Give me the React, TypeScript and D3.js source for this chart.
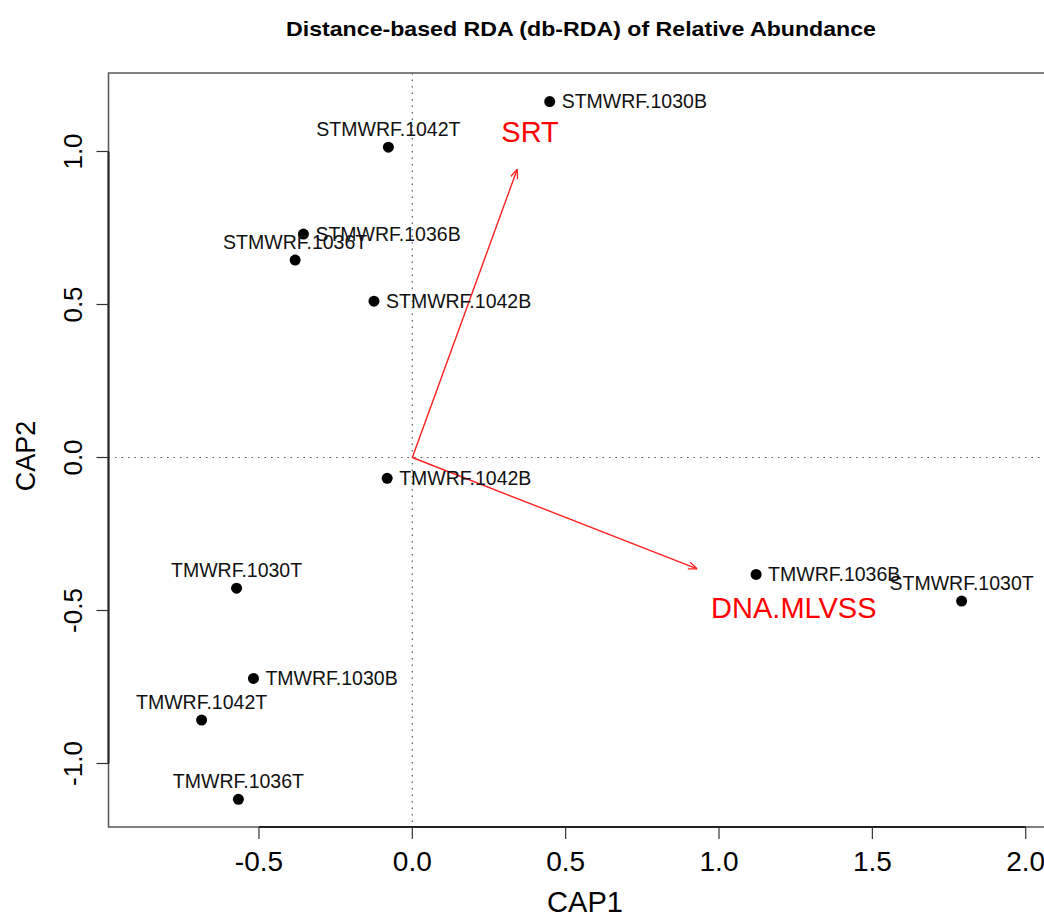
import React, { useEffect, useRef } from 'react';
import * as d3 from 'd3';

const WIDTH = 1044;
const HEIGHT = 919;

// site scores (CAP1, CAP2)
const sampleNames = [
  'STMWRF.1030B', 'STMWRF.1042T', 'STMWRF.1036B', 'STMWRF.1036T',
  'STMWRF.1042B', 'TMWRF.1042B', 'TMWRF.1030T', 'TMWRF.1030B',
  'TMWRF.1042T', 'TMWRF.1036T', 'TMWRF.1036B', 'STMWRF.1030T',
];
const cap1 = [0.448, -0.078, -0.355, -0.382, -0.125, -0.082, -0.573, -0.518, -0.687, -0.567, 1.121, 1.791];
const cap2 = [1.163, 1.014, 0.730, 0.645, 0.511, -0.068, -0.427, -0.722, -0.858, -1.117, -0.382, -0.469];
// R text() pos: 3 = above, 4 = right
const labelPos = [4, 3, 4, 3, 4, 4, 3, 4, 3, 3, 4, 3];

// environmental vectors
const envNames = ['SRT', 'DNA.MLVSS'];
const envCap1 = [0.342, 0.929];
const envCap2 = [0.942, -0.364];
const envLabelCap1 = [0.384, 1.244];
const envLabelCap2 = [1.065, -0.491];

const xTicks = [-0.5, 0.0, 0.5, 1.0, 1.5, 2.0];
const yTicks = [-1.0, -0.5, 0.0, 0.5, 1.0];

const App = () => {
  const svgRef = useRef(null);

  useEffect(() => {
    const svg = d3.select(svgRef.current);
    svg.selectAll('*').remove();

    const left = 108.5, right = 1053.5, top = 73, bottom = 827;
    const font = '"Liberation Sans", Arial, Helvetica, sans-serif';

    const x = d3.scaleLinear().domain([-0.9906, 2.0906]).range([left, right]);
    const y = d3.scaleLinear().domain([-1.2075, 1.2565]).range([bottom, top]);

    // title
    svg.append('text')
      .attr('x', 581)
      .attr('y', 36)
      .attr('text-anchor', 'middle')
      .attr('font-family', font)
      .attr('font-weight', 'bold')
      .attr('font-size', 21)
      .attr('textLength', 590)
      .attr('lengthAdjust', 'spacingAndGlyphs')
      .text('Distance-based RDA (db-RDA) of Relative Abundance');

    // dotted zero lines
    svg.append('line')
      .attr('x1', x(0)).attr('x2', x(0))
      .attr('y1', top).attr('y2', bottom)
      .attr('stroke', '#555')
      .attr('stroke-width', 1.2)
      .attr('stroke-dasharray', '1.5,5');
    svg.append('line')
      .attr('x1', left).attr('x2', right)
      .attr('y1', y(0)).attr('y2', y(0))
      .attr('stroke', '#555')
      .attr('stroke-width', 1.2)
      .attr('stroke-dasharray', '1.5,5');

    // box
    svg.append('rect')
      .attr('x', left).attr('y', top)
      .attr('width', right - left).attr('height', bottom - top)
      .attr('fill', 'none')
      .attr('stroke', '#555')
      .attr('stroke-width', 1.5);

    // x axis
    svg.append('line')
      .attr('x1', x(xTicks[0])).attr('x2', x(xTicks[xTicks.length - 1]))
      .attr('y1', bottom).attr('y2', bottom)
      .attr('stroke', '#222').attr('stroke-width', 2);
    const xg = svg.selectAll('.xtick').data(xTicks).enter().append('g')
      .attr('class', 'xtick')
      .attr('transform', d => `translate(${x(d)},${bottom})`);
    xg.append('line').attr('y1', 0).attr('y2', 12).attr('stroke', '#333').attr('stroke-width', 1.2);
    xg.append('text')
      .attr('y', 44)
      .attr('text-anchor', 'middle')
      .attr('font-family', font)
      .attr('font-size', 28)
      .text(d => d3.format('.1f')(d).replace('\u2212', '-'));

    // y axis
    svg.append('line')
      .attr('x1', left).attr('x2', left)
      .attr('y1', y(yTicks[0])).attr('y2', y(yTicks[yTicks.length - 1]))
      .attr('stroke', '#222').attr('stroke-width', 2);
    const yg = svg.selectAll('.ytick').data(yTicks).enter().append('g')
      .attr('class', 'ytick')
      .attr('transform', d => `translate(${left},${y(d)})`);
    yg.append('line').attr('x1', 0).attr('x2', -12).attr('stroke', '#333').attr('stroke-width', 1.2);
    yg.append('text')
      .attr('transform', 'translate(-27,0) rotate(-90)')
      .attr('text-anchor', 'middle')
      .attr('font-family', font)
      .attr('font-size', 26)
      .text(d => d3.format('.1f')(d).replace('\u2212', '-'));

    // axis titles
    svg.append('text')
      .attr('x', 585).attr('y', 912)
      .attr('text-anchor', 'middle')
      .attr('font-family', font)
      .attr('font-size', 29)
      .text('CAP1');
    svg.append('text')
      .attr('transform', 'translate(35,456) rotate(-90)')
      .attr('text-anchor', 'middle')
      .attr('font-family', font)
      .attr('font-size', 27)
      .text('CAP2');

    // arrows
    svg.append('defs').append('marker')
      .attr('id', 'head')
      .attr('viewBox', '0 0 10 10')
      .attr('refX', 10).attr('refY', 5)
      .attr('markerWidth', 9).attr('markerHeight', 9)
      .attr('markerUnits', 'userSpaceOnUse')
      .attr('orient', 'auto')
      .append('path')
      .attr('d', 'M0,1 L10,5 L0,9')
      .attr('fill', 'none')
      .attr('stroke', '#ff2020')
      .attr('stroke-width', 1.4);

    envNames.forEach((name, i) => {
      svg.append('line')
        .attr('x1', x(0)).attr('y1', y(0))
        .attr('x2', x(envCap1[i])).attr('y2', y(envCap2[i]))
        .attr('stroke', '#ff2020')
        .attr('stroke-width', 1.4)
        .attr('marker-end', 'url(#head)');
      svg.append('text')
        .attr('x', x(envLabelCap1[i]))
        .attr('y', y(envLabelCap2[i]) + 10)
        .attr('text-anchor', 'middle')
        .attr('font-family', font)
        .attr('font-size', 29)
        .attr('fill', '#ff0000')
        .text(name);
    });

    // site points
    const pts = sampleNames.map((name, i) => ({ name, cx: cap1[i], cy: cap2[i], pos: labelPos[i] }));
    svg.selectAll('.site')
      .data(pts)
      .enter()
      .append('circle')
      .attr('class', 'site')
      .attr('cx', d => x(d.cx))
      .attr('cy', d => y(d.cy))
      .attr('r', 5.5)
      .attr('fill', '#000');

    svg.selectAll('.site-label')
      .data(pts)
      .enter()
      .append('text')
      .attr('class', 'site-label')
      .attr('x', d => d.pos === 4 ? x(d.cx) + 12 : x(d.cx))
      .attr('y', d => d.pos === 4 ? y(d.cy) + 6.5 : y(d.cy) - 11)
      .attr('text-anchor', d => d.pos === 4 ? 'start' : 'middle')
      .attr('font-family', font)
      .attr('font-size', 19.5)
      .attr('fill', '#111')
      .text(d => d.name);
  }, []);

  return (
    <svg
      ref={svgRef}
      width={WIDTH}
      height={HEIGHT}
      style={{ position: 'absolute', left: 0, top: 0, background: '#fff' }}
    />
  );
};

export default App;
